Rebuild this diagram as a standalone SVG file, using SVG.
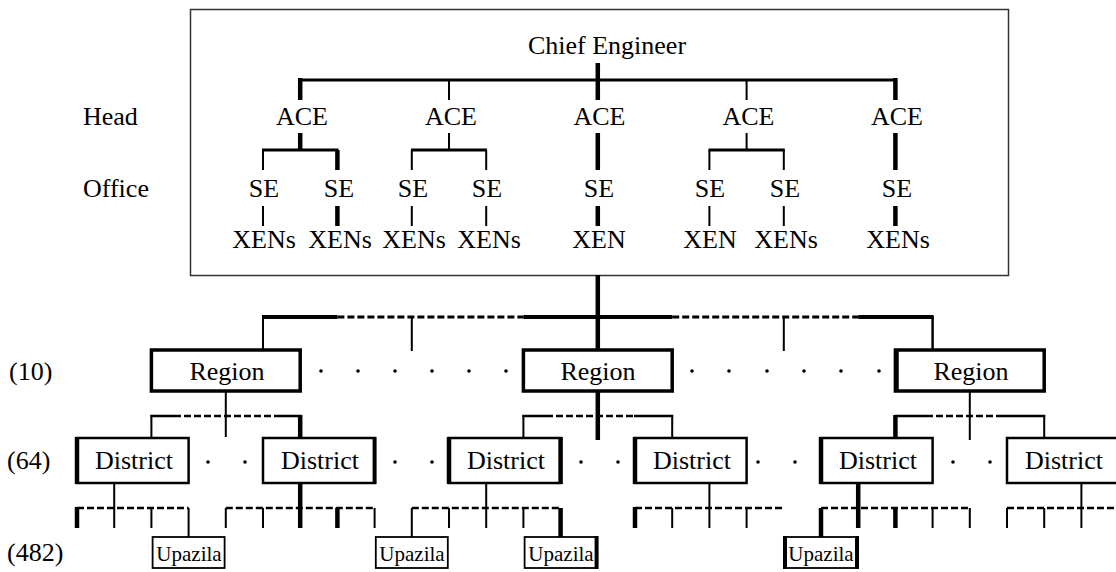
<svg xmlns="http://www.w3.org/2000/svg" width="1116" height="572" viewBox="0 0 1116 572" font-family="'Liberation Serif', 'Times New Roman', 'DejaVu Serif', serif">
<style>
.t{font-family:"Liberation Serif","Times New Roman","DejaVu Serif",serif;font-size:26px;fill:#000}
.m{text-anchor:middle}
.u{font-size:21px}
.c{stroke:#000;fill:none;stroke-width:2}
.k{stroke-width:4.5}
.h{stroke-width:3}
.w4{stroke-width:4}
.w25{stroke-width:2.5}
.d{stroke-dasharray:7 3}
.b{fill:#fff;stroke:#000;stroke-width:2.5}
.rb{fill:#fff;stroke:#000;stroke-width:3.5}
.ub{fill:#fff;stroke:#000;stroke-width:1.8}
.dot{fill:#000}
</style>
<g id="frame"><rect x="190.5" y="9.5" width="818" height="266" fill="none" stroke="#333" stroke-width="1.5"/></g>
<g id="labels">
<text class="t" x="83" y="125">Head</text>
<text class="t" x="83" y="197">Office</text>
<text class="t" x="9" y="380">(10)</text>
<text class="t" x="7" y="469">(64)</text>
<text class="t" x="7" y="561">(482)</text>
</g>
<g id="chief"><text class="t m" x="607" y="54">Chief Engineer</text></g>
<g id="ace1"><text class="t m" x="302" y="125">ACE</text></g>
<g id="ace2"><text class="t m" x="451" y="125">ACE</text></g>
<g id="ace3"><text class="t m" x="599.5" y="125">ACE</text></g>
<g id="ace4"><text class="t m" x="748.5" y="125">ACE</text></g>
<g id="ace5"><text class="t m" x="897" y="125">ACE</text></g>
<g id="se1"><text class="t m" x="264" y="197">SE</text><text class="t m" x="264" y="248">XENs</text></g>
<g id="se2"><text class="t m" x="339" y="197">SE</text><text class="t m" x="340" y="248">XENs</text></g>
<g id="se3"><text class="t m" x="413" y="197">SE</text><text class="t m" x="414" y="248">XENs</text></g>
<g id="se4"><text class="t m" x="487" y="197">SE</text><text class="t m" x="489" y="248">XENs</text></g>
<g id="se5"><text class="t m" x="599" y="197">SE</text><text class="t m" x="599" y="248">XEN</text></g>
<g id="se6"><text class="t m" x="710" y="197">SE</text><text class="t m" x="710" y="248">XEN</text></g>
<g id="se7"><text class="t m" x="785" y="197">SE</text><text class="t m" x="786" y="248">XENs</text></g>
<g id="se8"><text class="t m" x="897" y="197">SE</text><text class="t m" x="898" y="248">XENs</text></g>
<g id="connectors">
<path class="c h" d="M299 80H897"/>
<path class="c k" d="M597.8 63V100M300.2 78V100M895.4 78V100"/>
<path class="c" d="M449 80V100M746.6 80V100"/>
<path class="c k" d="M300.2 133V150M597.8 133V170M895.4 133V170M337.4 150V170"/>
<path class="c" d="M449 133V150M746.6 133V150M263 150V170M411.8 150V170M486.2 150V170M709.4 150V170M783.8 150V170"/>
<path class="c h" d="M262 150H338.5M411 150H487M708.5 150H784.8"/>
<path class="c" d="M263 206V226M411.8 206V226M486.2 206V226M709.4 206V226M783.8 206V226"/>
<path class="c k" d="M337.4 206V226M597.8 206V226M895.4 206V226"/>
<path class="c k" d="M597.8 275V350"/>
<path class="c w4" d="M262 317H337.4M523.4 317H672.2M858.2 317H933.6"/>
<path class="c h d" d="M337.4 317H523.4M672.2 317H858.2"/>
<path class="c" d="M263 316V350M411.8 317V351M783.8 317V351"/>
<path class="c w25" d="M932.6 316V350"/>
<path class="c" d="M225.8 391V437M969.8 391V440"/>
<path class="c k" d="M597.8 391V440"/>
<path class="c w25" d="M150.4 416H174M277 416H301.5M522.4 416H546M634 416H673.2M894.4 416H926M1003 416H1045.2"/>
<path class="c w25 d" d="M174 416H277M546 416H634M926 416H1003"/>
<path class="c" d="M151.4 415V438M523.4 415V438M672.2 415V438M1044.2 415V438"/>
<path class="c k" d="M300.2 415V438M895.4 415V438"/>
<path class="c" d="M114.2 483V528M486.2 483V528M709.4 483V528M1081.4 483V528"/>
<path class="c k" d="M300.2 483V528M858.2 483V528"/>
<path class="c w25 d" d="M77 508H188.6M225.8 508H374.6M411.8 508H560.6M635 508H783.8M821 508H969.8M1007 508H1116"/>
<path class="c" d="M151.4 508V528M225.8 508V528M263 508V528M374.6 508V528M449 508V528M523.4 508V528M672.2 508V528M746.6 508V528M932.6 508V528M969.8 508V528M1007 508V528M1044.2 508V528"/>
<path class="c k" d="M77 507V528M337.4 508V528M635 507V528M895.4 508V528"/>
<path class="c" d="M188.6 508V537M411.8 508V537"/>
<path class="c k" d="M560.6 508V537M821 508V537"/>
</g>
<g id="region1"><rect class="rb" x="151.4" y="350" width="148.8" height="41"/><text class="t m" x="227" y="380">Region</text></g>
<g id="region2"><rect class="rb" x="523.4" y="350" width="148.8" height="41"/><text class="t m" x="598" y="380">Region</text></g>
<g id="region3"><rect class="rb" x="895.4" y="350" width="148.8" height="41"/><path class="c k" d="M896.5 349V392"/><text class="t m" x="971" y="380">Region</text></g>
<g id="dots1" class="dot"><circle cx="321" cy="371" r="1.8"/><circle cx="358" cy="371" r="1.8"/><circle cx="395" cy="371" r="1.8"/><circle cx="432" cy="371" r="1.8"/><circle cx="469" cy="371" r="1.8"/><circle cx="506" cy="371" r="1.8"/><circle cx="692" cy="371" r="1.8"/><circle cx="729" cy="371" r="1.8"/><circle cx="767" cy="371" r="1.8"/><circle cx="804" cy="371" r="1.8"/><circle cx="841" cy="371" r="1.8"/><circle cx="879" cy="371" r="1.8"/></g>
<g id="district1"><rect class="b" x="77" y="438" width="111.6" height="45"/><path class="c k" d="M77 437V484"/><text class="t m" x="134" y="469">District</text></g>
<g id="district2"><rect class="b" x="263" y="438" width="111.6" height="45"/><path class="c w4" d="M374.6 437V484"/><text class="t m" x="320" y="469">District</text></g>
<g id="district3"><rect class="b" x="449" y="438" width="111.6" height="45"/><path class="c k" d="M449 437V484M560.6 437V484"/><text class="t m" x="506" y="469">District</text></g>
<g id="district4"><rect class="b" x="635" y="438" width="111.6" height="45"/><path class="c k" d="M635 437V484"/><text class="t m" x="692" y="469">District</text></g>
<g id="district5"><rect class="b" x="821" y="438" width="111.6" height="45"/><path class="c k" d="M821 437V484"/><text class="t m" x="878" y="469">District</text></g>
<g id="district6"><rect class="b" x="1007" y="438" width="111.6" height="45"/><text class="t m" x="1064" y="469">District</text></g>
<g id="dots2" class="dot"><circle cx="208" cy="462" r="1.8"/><circle cx="245" cy="462" r="1.8"/><circle cx="395" cy="462" r="1.8"/><circle cx="432" cy="462" r="1.8"/><circle cx="581" cy="462" r="1.8"/><circle cx="618" cy="462" r="1.8"/><circle cx="758" cy="462" r="1.8"/><circle cx="795" cy="462" r="1.8"/><circle cx="953" cy="462" r="1.8"/><circle cx="990" cy="462" r="1.8"/></g>
<g id="upazila1"><rect class="ub" x="152.6" y="537" width="72" height="31"/><text class="t u m" x="189" y="561">Upazila</text></g>
<g id="upazila2"><rect class="ub" x="375.8" y="537" width="72" height="31"/><text class="t u m" x="412" y="561">Upazila</text></g>
<g id="upazila3"><rect class="ub" x="524.6" y="537" width="72" height="31"/><path class="c w4" d="M596.6 536V569"/><text class="t u m" x="561" y="561">Upazila</text></g>
<g id="upazila4"><rect class="ub" x="785" y="537" width="72" height="31"/><path class="c w4" d="M785 536V569M857 536V569"/><text class="t u m" x="821" y="561">Upazila</text></g>
</svg>
